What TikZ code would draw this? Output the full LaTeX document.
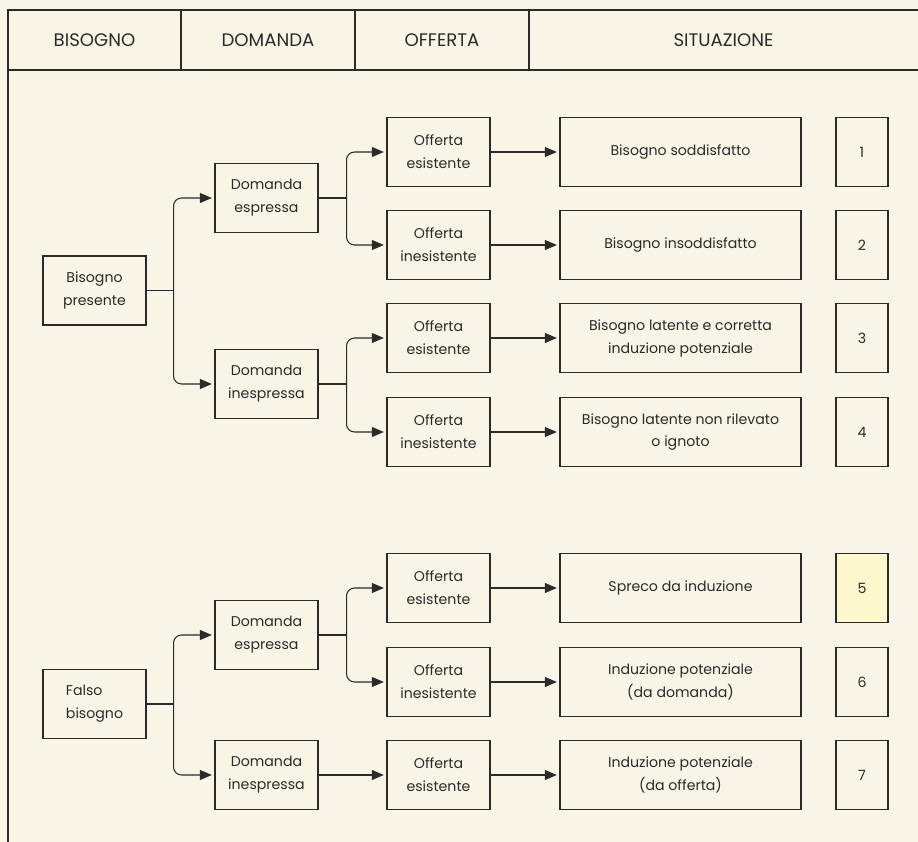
\documentclass[tikz,border=0pt]{standalone}
\usepackage{fontspec}
\setmainfont{Poppins}
\usetikzlibrary{arrows.meta}
\definecolor{paperCream}{RGB}{248,245,230}
\definecolor{inkGray}{RGB}{42,42,42}
\definecolor{markYellow}{RGB}{253,247,204}

\begin{document}
\begin{tikzpicture}[x=0.75pt, y=-0.75pt,
    cell/.style={draw=inkGray, line width=0.8pt, text=inkGray, align=center, inner sep=0pt,
      minimum height=51.75pt, minimum width=77.25pt, font=\fontsize{10.6}{17.2}\selectfont},
    wideCell/.style={cell, minimum width=180.75pt},
    numCell/.style={cell, minimum width=39pt},
    arrowLine/.style={draw=inkGray, line width=0.8pt, -{Triangle[length=9pt,width=7.5pt]}, shorten >=2pt},
    forkLine/.style={arrowLine, rounded corners=6pt},
    stemLine/.style={draw=inkGray, line width=0.8pt},
    headText/.style={text=inkGray, font=\fontsize{13.6}{15}\selectfont}]
  \useasboundingbox[fill=paperCream] (0,0) rectangle (918,842);
  \draw[inkGray, line width=1pt] (8,842) -- (8,10) -- (918,10);
  \draw[inkGray, line width=1pt] (8,70) -- (918,70);
  \foreach \x in {181,355,529} \draw[inkGray, line width=1pt] (\x,10) -- (\x,70);
  \node[headText] (headBis) at (94.5,40) {BISOGNO};
  \node[headText] (headDom) at (268,40) {DOMANDA};
  \node[headText] (headOff) at (442,40) {OFFERTA};
  \node[headText] (headSit) at (723.5,40) {SITUAZIONE};

  \node[cell] (bisPres) at (94.5,290.5) {Bisogno\\presente};
  \node[cell] (domEsp1) at (266.5,198) {Domanda\\espressa};
  \node[cell] (domInesp1) at (266.5,384) {Domanda\\inespressa};
  \node[cell, align=left] (falsoBis) at (94.5,704) {Falso\\bisogno};
  \node[cell] (domEsp2) at (266.5,635) {Domanda\\espressa};
  \node[cell] (domInesp2) at (266.5,775) {Domanda\\inespressa};

  \foreach \n/\y/\off/\sit/\tint in {
      1/152/esistente/{Bisogno soddisfatto}/paperCream,
      2/245/inesistente/{Bisogno insoddisfatto}/paperCream,
      3/338/esistente/{Bisogno latente e corretta\\induzione potenziale}/paperCream,
      4/432/inesistente/{Bisogno latente non rilevato\\o ignoto}/paperCream,
      5/588/esistente/{Spreco da induzione}/markYellow,
      6/682/inesistente/{Induzione potenziale\\(da domanda)}/paperCream,
      7/775/esistente/{Induzione potenziale\\(da offerta)}/paperCream}{
    \node[cell] (off\n) at (438.5,\y) {Offerta\\\off};
    \node[wideCell] (sit\n) at (680.5,\y) {\sit};
    \node[numCell, fill=\tint] (num\n) at (862,\y) {\n};
    \draw[arrowLine] (off\n.east) -- (sit\n.west);
  }

  \draw[stemLine] (bisPres.east) -- ++(27,0) coordinate (forkA);
  \draw[forkLine] (forkA) |- (domEsp1.west);
  \draw[forkLine] (forkA) |- (domInesp1.west);
  \draw[stemLine] (domEsp1.east) -- ++(28,0) coordinate (forkB);
  \draw[forkLine] (forkB) |- (off1.west);
  \draw[forkLine] (forkB) |- (off2.west);
  \draw[stemLine] (domInesp1.east) -- ++(28,0) coordinate (forkC);
  \draw[forkLine] (forkC) |- (off3.west);
  \draw[forkLine] (forkC) |- (off4.west);
  \draw[stemLine] (falsoBis.east) -- ++(27,0) coordinate (forkD);
  \draw[forkLine] (forkD) |- (domEsp2.west);
  \draw[forkLine] (forkD) |- (domInesp2.west);
  \draw[stemLine] (domEsp2.east) -- ++(28,0) coordinate (forkE);
  \draw[forkLine] (forkE) |- (off5.west);
  \draw[forkLine] (forkE) |- (off6.west);
  \draw[arrowLine] (domInesp2.east) -- (off7.west);
\end{tikzpicture}
\end{document}
